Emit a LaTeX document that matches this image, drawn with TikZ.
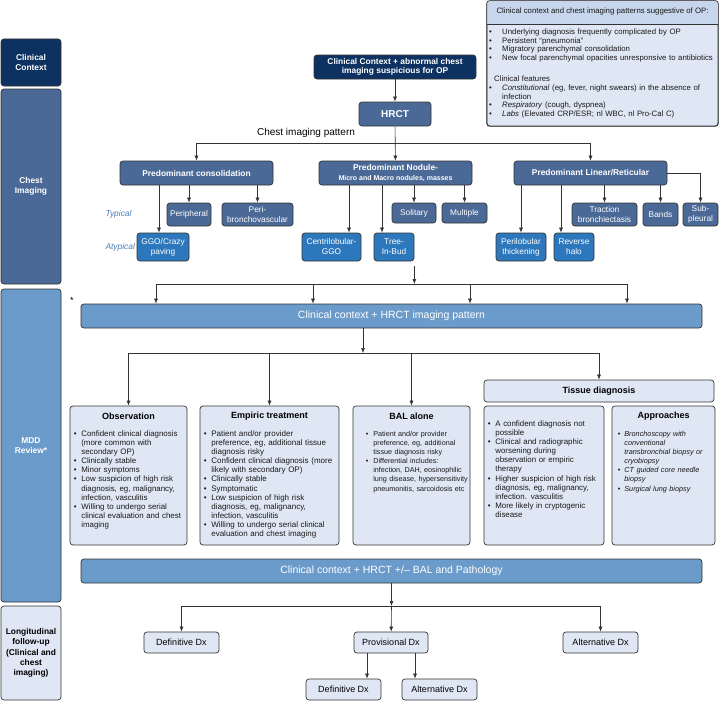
\documentclass[tikz,border=0pt]{standalone}
\usepackage{fontspec}
\setmainfont{Liberation Sans}
\usetikzlibrary{arrows.meta}

\definecolor{navy}{HTML}{0D3161}
\definecolor{steel}{HTML}{4B6997}
\definecolor{atypblue}{HTML}{2D77BC}
\definecolor{barblue}{HTML}{6A9BCB}
\definecolor{paleblue}{HTML}{DFE7F5}
\definecolor{headblue}{HTML}{C7D6EC}
\definecolor{labelblue}{HTML}{4C7BB8}
\definecolor{linegray}{HTML}{333333}

% bullet with hanging indent
\newcommand{\bitem}[1][7.5pt]{\par\hangindent=#1\hangafter=1\noindent\hbox to #1{\textbullet\hfil}\ignorespaces}

\begin{document}
\begin{tikzpicture}[x=1pt, y=-1pt,
    box/.style={draw=linegray, line width=0.7pt, rounded corners=3pt, inner sep=0pt, align=center},
    sidebox/.style={box, minimum width=60, font=\bfseries\fontsize{8.4}{10.3}\selectfont},
    darkbox/.style={box, fill=navy, text=white, font=\bfseries\fontsize{8.4}{9.6}\selectfont},
    patbox/.style={box, fill=steel, text=white, minimum width=153, minimum height=24, font=\bfseries\fontsize{8.4}{9.6}\selectfont},
    typbox/.style={box, fill=steel, text=white, minimum height=23, font=\fontsize{8.3}{10}\selectfont},
    atybox/.style={box, fill=atypblue, text=white, minimum height=28, font=\fontsize{8.3}{10}\selectfont},
    mddbar/.style={box, fill=barblue, text=white, minimum width=621, minimum height=24, font=\fontsize{10.5}{12}\selectfont},
    optbox/.style={box, fill=paleblue, minimum height=139},
    titletext/.style={font=\bfseries\fontsize{9}{11}\selectfont},
    listtext/.style={anchor=north west, inner sep=0pt, align=left, text=black!90},
    dxbox/.style={box, fill=paleblue, minimum width=75, minimum height=21, font=\fontsize{9}{11}\selectfont},
    arr/.style={draw=linegray, line width=0.6pt, -{Latex[length=5pt, width=4pt]}},
    link/.style={draw=linegray, line width=0.6pt}]

    \useasboundingbox (0,0) rectangle (719,701);

    % Side labels
    \node[sidebox, fill=navy, text=white, minimum height=47] (sctx) at (31,62.5) {Clinical\\Context};
    \node[sidebox, fill=steel, text=white, minimum height=195] (simg) at (31,186.5) {Chest\\Imaging};
    \node[sidebox, fill=barblue, text=white, minimum height=313] (smdd) at (31,445.5) {MDD\\Review*};
    \node[sidebox, fill=paleblue, minimum height=94] (sfol) at (31,653) {Longitudinal\\follow-up\\(Clinical and\\chest\\imaging)};

    % Box of suggestive features
    \node[box, fill=paleblue, minimum width=231, minimum height=125] (info) at (602.5,63.5) {};
    \begin{scope}
      \clip[rounded corners=3pt] (info.north west) rectangle (info.south east);
      \fill[headblue] (info.north west) rectangle ([yshift=-24pt]info.north east);
    \end{scope}
    \draw[link] ([yshift=-24pt]info.north west) -- ([yshift=-24pt]info.north east);
    \draw[linegray, line width=0.7pt, rounded corners=3pt] (info.north west) rectangle (info.south east);
    \node[font=\fontsize{7.8}{8.7}\selectfont, text=black!90] (infohead) at (602.5,11.5) {Clinical context and chest imaging patterns suggestive of OP:};
    \node[listtext, text width=228, font=\fontsize{7.8}{8.7}\selectfont] (infolist) at (489,25.5) {%
      \bitem[13pt] Underlying diagnosis frequently complicated by OP
      \bitem[13pt] Persistent “pneumonia”
      \bitem[13pt] Migratory parenchymal consolidation
      \bitem[13pt] New focal parenchymal opacities unresponsive to antibiotics\par
      \vspace{12.5pt}\noindent\hspace*{5pt}Clinical features
      \bitem[13pt] \textit{Constitutional} (eg, fever, night swears) in the absence of\newline infection
      \bitem[13pt] \textit{Respiratory} (cough, dyspnea)
      \bitem[13pt] \textit{Labs} (Elevated CRP/ESR; nl WBC, nl Pro-Cal C)\par};

    % Clinical context and HRCT
    \node[darkbox, minimum width=162, minimum height=24] (ctx) at (395,67) {Clinical Context + abnormal chest\\imaging suspicious for OP};
    \node[box, fill=steel, text=white, minimum width=72, minimum height=24, font=\bfseries\fontsize{10}{12}\selectfont] (hrct) at (395,114) {HRCT};
    \node[font=\fontsize{10}{12}\selectfont] (cip) at (306,133) {Chest imaging pattern};
    \coordinate (split1) at (395,143);

    % Chest imaging patterns
    \node[patbox] (cons) at (196.5,173) {Predominant consolidation};
    \node[patbox] (nod) at (395.5,173) {Predominant Nodule-\\{\fontsize{7}{8}\selectfont Micro and Macro nodules, masses}};
    \node[patbox] (lin) at (590.5,173) {Predominant Linear/Reticular};

    \node[anchor=west, text=labelblue, font=\itshape\fontsize{8.4}{10}\selectfont] (typ) at (102,214) {Typical};
    \node[anchor=west, text=labelblue, font=\itshape\fontsize{8.4}{10}\selectfont] (atyp) at (102,247) {Atypical};

    \node[typbox, minimum width=44] (peri) at (189,214.5) {Peripheral};
    \node[typbox, minimum width=71] (pbv) at (257.5,214.5) {Peri-\\bronchovascular};
    \node[typbox, minimum width=44, minimum height=20] (sol) at (414,213) {Solitary};
    \node[typbox, minimum width=45, minimum height=20] (mult) at (464.5,213) {Multiple};
    \node[typbox, minimum width=65] (trac) at (604.5,214.5) {Traction\\bronchiectasis};
    \node[typbox, minimum width=35] (bands) at (660.5,214.5) {Bands};
    \node[typbox, minimum width=35] (subp) at (700.5,214.5) {Sub-\\pleural};

    \node[atybox, minimum width=52] (ggo) at (163,247) {GGO/Crazy\\paving};
    \node[atybox, minimum width=59] (cggo) at (331.5,247) {Centrilobular-\\GGO};
    \node[atybox, minimum width=40] (tib) at (394,247) {Tree-\\In-Bud};
    \node[atybox, minimum width=50] (perilob) at (521,247) {Perilobular\\thickening};
    \node[atybox, minimum width=40] (rhalo) at (574,247) {Reverse\\halo};

    % Draw pattern arrows
    \draw[arr] (ctx) -- (hrct);
    \draw[arr] (hrct) -- (nod);
    \draw[arr] (split1) -| (cons.north);
    \draw[arr] (split1) -| (lin.north);
    \draw[arr] ([xshift=-4pt]ggo.north |- cons.south) -- ([xshift=-4pt]ggo.north);
    \foreach \n in {peri, pbv} \draw[arr] (\n.north |- cons.south) -- (\n.north);
    \draw[arr] ([xshift=17.5pt]cggo.north |- nod.south) -- ([xshift=17.5pt]cggo.north);
    \draw[arr] ([xshift=-12pt]tib.north |- nod.south) -- ([xshift=-12pt]tib.north);
    \foreach \n in {sol, mult} \draw[arr] (\n.north |- nod.south) -- (\n.north);
    \foreach \n in {perilob, trac, bands} \draw[arr] (\n.north |- lin.south) -- (\n.north);
    \draw[arr] ([xshift=-13pt]rhalo.north |- lin.south) -- ([xshift=-13pt]rhalo.north);
    \draw[arr] (lin.east) -| (subp.north);

    % MDD review
    \node[mddbar] (mdd1) at (391.5,316) {Clinical context + HRCT imaging pattern};
    \node[font=\fontsize{9}{10}\selectfont] (star) at (72,300) {*};
    \coordinate (ciout) at ([yshift=-5pt]tib.south east);
    \coordinate (s2l) at (156,284);
    \coordinate (s2r) at (627,284);
    \draw[arr] (ciout) -- (ciout |- s2l);
    \draw[link] (s2l) -- (s2r);
    \foreach \dx in {-235.5,-78.5,78.5,235.5}
      \draw[arr] ([xshift=\dx pt]mdd1.north |- s2l) -- ([xshift=\dx pt]mdd1.north);

    \node[optbox, minimum width=117] (obs) at (128.5,475.5) {};
    \node[optbox, minimum width=139] (emp) at (269.5,475.5) {};
    \node[optbox, minimum width=117] (bal) at (411.5,475.5) {};
    \node[optbox, minimum width=120] (tis) at (544,475.5) {};
    \node[optbox, minimum width=103] (appr) at (663.5,475.5) {};
    \node[box, fill=paleblue, minimum width=230, minimum height=22, font=\bfseries\fontsize{9}{11}\selectfont] (tishead) at (599,391) {Tissue diagnosis};

    \node[titletext] (obsh) at ([yshift=-11pt]obs.north) {Observation};
    \node[titletext] (emph) at ([yshift=-11pt]emp.north) {Empiric treatment};
    \node[titletext] (balh) at ([yshift=-11pt]bal.north) {BAL alone};
    \node[titletext] (apprh) at ([yshift=-11pt]appr.north) {Approaches};

    \node[listtext, text width=111, font=\fontsize{7.9}{9.1}\selectfont] (obsl) at ([xshift=4pt, yshift=-21.5pt]obs.north west) {%
      \bitem Confident clinical diagnosis\newline (more common with\newline secondary OP)
      \bitem Clinically stable
      \bitem Minor symptoms
      \bitem Low suspicion of high risk\newline diagnosis, eg, malignancy,\newline infection, vasculitis
      \bitem Willing to undergo serial\newline clinical evaluation and chest\newline imaging\par};
    \node[listtext, text width=134, font=\fontsize{8}{9.1}\selectfont] (empl) at ([xshift=4pt, yshift=-21.5pt]emp.north west) {%
      \bitem Patient and/or provider\newline preference, eg, additional tissue\newline diagnosis risky
      \bitem Confident clinical diagnosis (more\newline likely with secondary OP)
      \bitem Clinically stable
      \bitem Symptomatic
      \bitem Low suspicion of high risk\newline diagnosis, eg, malignancy,\newline infection, vasculitis
      \bitem Willing to undergo serial clinical\newline evaluation and chest imaging\par};
    \node[listtext, text width=103, font=\fontsize{7.2}{9.1}\selectfont] (ball) at ([xshift=13pt, yshift=-21.5pt]bal.north west) {%
      \bitem Patient and/or provider\newline preference, eg, additional\newline tissue diagnosis risky
      \bitem Differential includes:\newline infection, DAH, eosinophilic\newline lung disease, hypersensitivity\newline pneumonitis, sarcoidosis etc\par};
    \node[listtext, text width=114, font=\fontsize{7.9}{9.1}\selectfont] (tisl) at ([xshift=4pt, yshift=-11.5pt]tis.north west) {%
      \bitem A confident diagnosis not\newline possible
      \bitem Clinical and radiographic\newline worsening during\newline observation or empiric\newline therapy
      \bitem Higher suspicion of high risk\newline diagnosis, eg, malignancy,\newline infection. vasculitis
      \bitem More likely in cryptogenic\newline disease\par};
    \node[listtext, text width=95, font=\itshape\fontsize{7.3}{9.1}\selectfont] (apprl) at ([xshift=6pt, yshift=-21.5pt]appr.north west) {%
      \bitem[6.5pt] Bronchoscopy with\newline conventional\newline transbronchial biopsy or\newline cryobiopsy
      \bitem[6.5pt] CT guided core needle\newline biopsy
      \bitem[6.5pt] Surgical lung biopsy\par};

    % Draw MDD arrows
    \coordinate (split3) at (363,353);
    \draw[arr] ([xshift=-28.5pt]mdd1.south) -- (split3);
    \foreach \n in {obs, emp, bal, tishead} \draw[arr] (split3) -| (\n.north);

    % Follow-up
    \node[mddbar] (mdd2) at (391.5,571) {Clinical context + HRCT +/– BAL and Pathology};
    \node[dxbox] (def1) at (181.5,642.5) {Definitive Dx};
    \node[dxbox, minimum width=74] (prov) at (391,642.5) {Provisional Dx};
    \node[dxbox] (alt1) at (600.5,642.5) {Alternative Dx};
    \node[dxbox] (def2) at (343.5,689.5) {Definitive Dx};
    \node[dxbox] (alt2) at (439.5,689.5) {Alternative Dx};

    \coordinate (split4) at (391.5,606);
    \draw[arr] (mdd2.south) -- (split4);
    \draw[arr] (split4) -- (prov);
    \draw[arr] (split4) -| (def1.north);
    \draw[arr] (split4) -| (alt1.north);
    \draw[arr] ([xshift=-24pt]prov.south) -- ([xshift=-24pt]prov.south |- def2.north);
    \draw[arr] ([xshift=24pt]prov.south) -- ([xshift=24pt]prov.south |- alt2.north);

\end{tikzpicture}
\end{document}
